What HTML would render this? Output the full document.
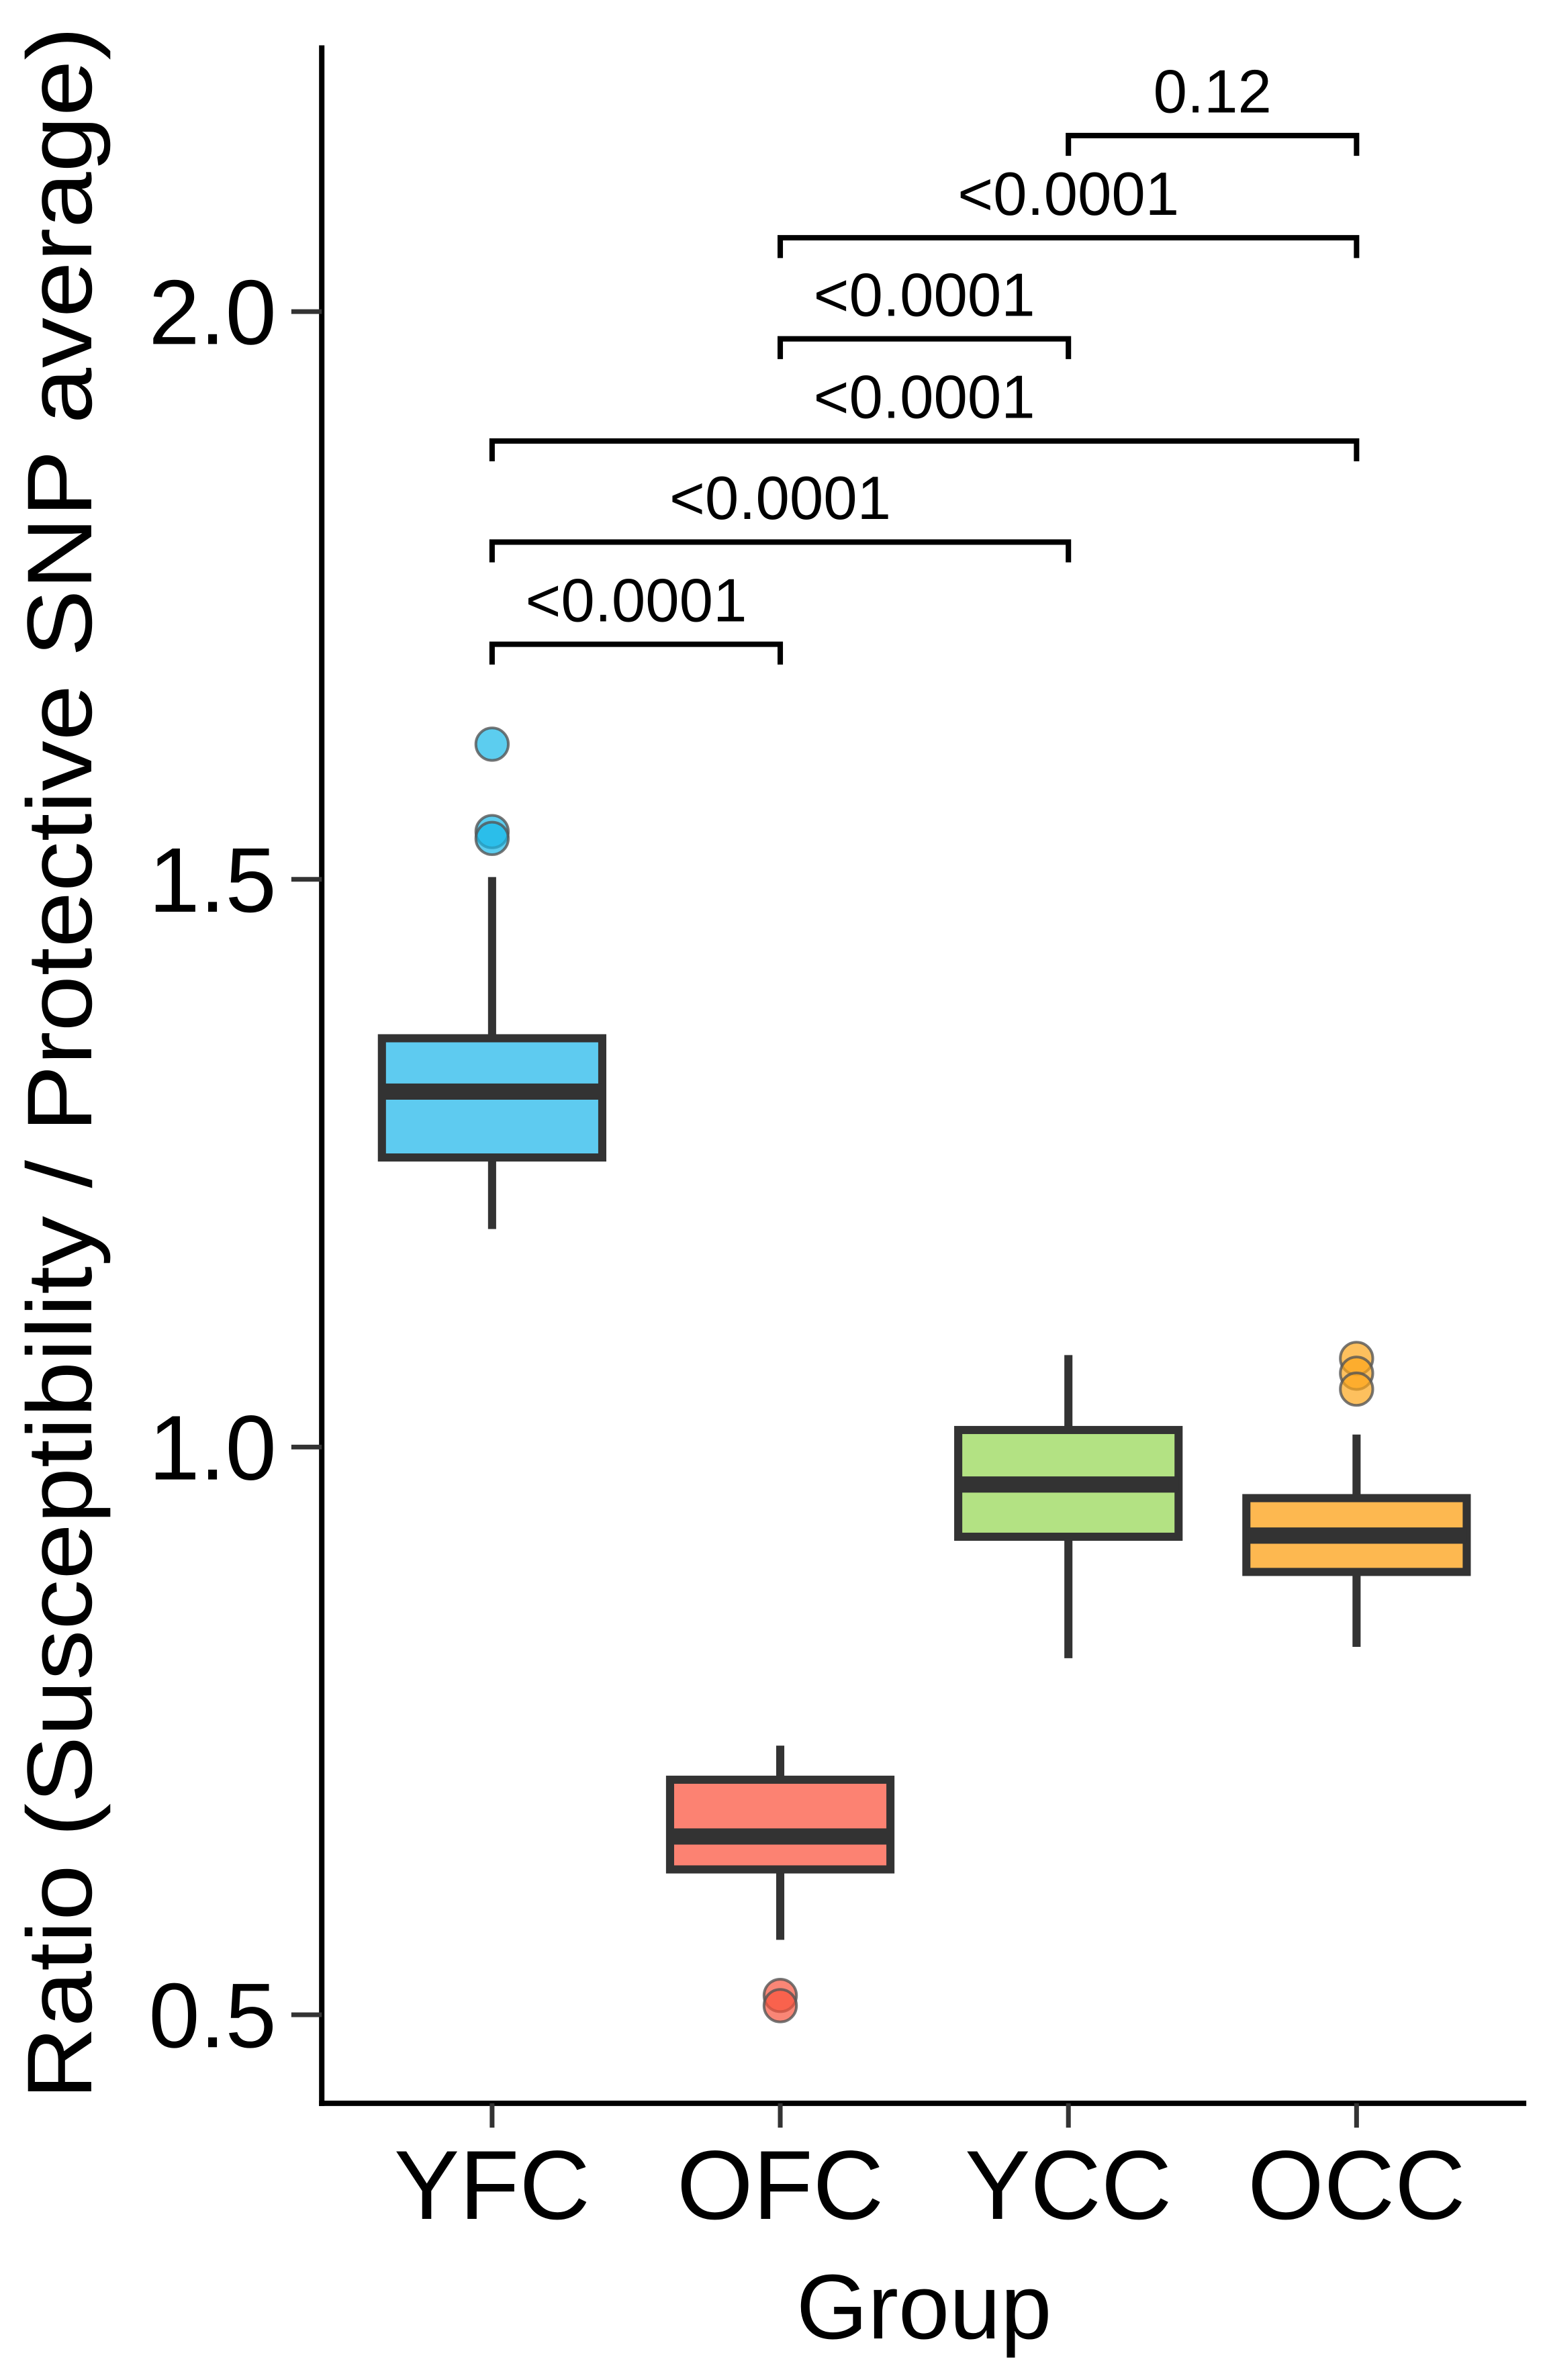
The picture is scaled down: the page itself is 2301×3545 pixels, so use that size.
<!DOCTYPE html>
<html><head><meta charset="utf-8"><style>
html,body{margin:0;padding:0;background:#fff;}
svg{display:block;font-family:"Liberation Sans",Arial,sans-serif;}
</style></head><body>
<svg id="chart" width="2301" height="3545" viewBox="0 0 2301 3545" xmlns="http://www.w3.org/2000/svg">
<rect width="2301" height="3545" fill="#fff"/>
<g id="plot" transform="scale(1.0067)"></g>
</svg>
<script>
const groups = ["YFC","OFC","YCC","OCC"];
const fills = ["#5ecbf0","#fc8272","#b3e283","#fdb850"];
const outlierFills = ["#17b8e8","#f8523c","#8fd650","#fca51a"];
const q1 = [1.255,0.628,0.921,0.890];
const medians = [1.313,0.657,0.967,0.922];
const q3 = [1.360,0.707,1.015,0.955];
const whiskerLo = [1.192,0.566,0.814,0.824];
const whiskerHi = [1.502,0.737,1.081,1.011];
const outliers = [[1.619,1.542,1.536],[0.517,0.508],[],[1.078,1.065,1.051]];
const yTicks = [0.5,1.0,1.5,2.0];
const yTickLabels = ["0.5","1.0","1.5","2.0"];
const bracketFrom = [0,0,0,1,1,2];
const bracketTo = [1,2,3,2,3,3];
const bracketY = [1.707,1.797,1.886,1.976,2.065,2.155];
const bracketLabels = ["<0.0001","<0.0001","<0.0001","<0.0001","<0.0001","0.12"];

const NS="http://www.w3.org/2000/svg";
const g=document.getElementById('plot');
const X0=476, XEND=2258, YBASE=3112, YTOP=67;
function yS(v){ return 2141 - (v-1.0)*1680; }
function xS(i){ return 728 + i*426.3; }
function mk(tag,attrs,parent){const e=document.createElementNS(NS,tag);for(const k in attrs)e.setAttribute(k,attrs[k]);(parent||g).appendChild(e);return e;}

let e=mk('line',{x1:X0,y1:YTOP,x2:X0,y2:YBASE+4,stroke:'#000','stroke-width':8});


e=mk('line',{x1:X0-4,y1:YBASE,x2:XEND,y2:YBASE,stroke:'#000','stroke-width':8});



yTicks.forEach((v,i)=>{
  const y=yS(v);
  let t=mk('line',{x1:X0-45,y1:y,x2:X0,y2:y,stroke:'#333','stroke-width':7});
  
  
  let l=mk('text',{x:409,y:y+48,'text-anchor':'end','font-size':136,fill:'#000'});
  l.textContent=yTickLabels[i];
  
  
});

groups.forEach((name,i)=>{
  const cx=xS(i), hw=163;
  let t=mk('line',{x1:cx,y1:YBASE,x2:cx,y2:YBASE+36,stroke:'#333','stroke-width':7});
  
  
  let l=mk('text',{x:cx,y:3283,'text-anchor':'middle','font-size':145,fill:'#000'});
  l.textContent=name;
  
  
  let w1=mk('line',{x1:cx,y1:yS(whiskerHi[i]),x2:cx,y2:yS(q3[i]),stroke:'#333','stroke-width':12});
  
  
  let w2=mk('line',{x1:cx,y1:yS(q1[i]),x2:cx,y2:yS(whiskerLo[i]),stroke:'#333','stroke-width':12});
  
  
  let b=mk('rect',{x:cx-hw,y:yS(q3[i]),width:2*hw,height:yS(q1[i])-yS(q3[i]),fill:fills[i],stroke:'#333','stroke-width':12});
  
  
  let m=mk('line',{x1:cx-hw,y1:yS(medians[i]),x2:cx+hw,y2:yS(medians[i]),stroke:'#333','stroke-width':24});
  
  
  outliers[i].forEach(v=>{
    let c=mk('circle',{cx:cx,cy:yS(v),r:24,fill:outlierFills[i],'fill-opacity':0.7,stroke:'#555','stroke-width':4,'stroke-opacity':0.8});
    
    
  });
});

bracketFrom.forEach((f,i)=>{
  const x1=xS(f), x2=xS(bracketTo[i]), y=yS(bracketY[i]);
  let p=mk('path',{d:`M${x1},${y+30} L${x1},${y} L${x2},${y} L${x2},${y+30}`,fill:'none',stroke:'#000','stroke-width':8});
  
  
  let t=mk('text',{x:(x1+x2)/2,y:y-34,'text-anchor':'middle','font-size':90,fill:'#000'});
  t.textContent=bracketLabels[i];
  
  
});

let xt=mk('text',{x:1367,y:3460,'text-anchor':'middle','font-size':136,fill:'#000'});
xt.textContent='Group';


let yt=mk('text',{x:0,y:0,'text-anchor':'middle','font-size':136,fill:'#000',transform:'translate(135,1573) rotate(-90)',textLength:3067,lengthAdjust:'spacingAndGlyphs'});
yt.textContent='Ratio (Susceptibility / Protective SNP average)';


</script>
</body></html>
